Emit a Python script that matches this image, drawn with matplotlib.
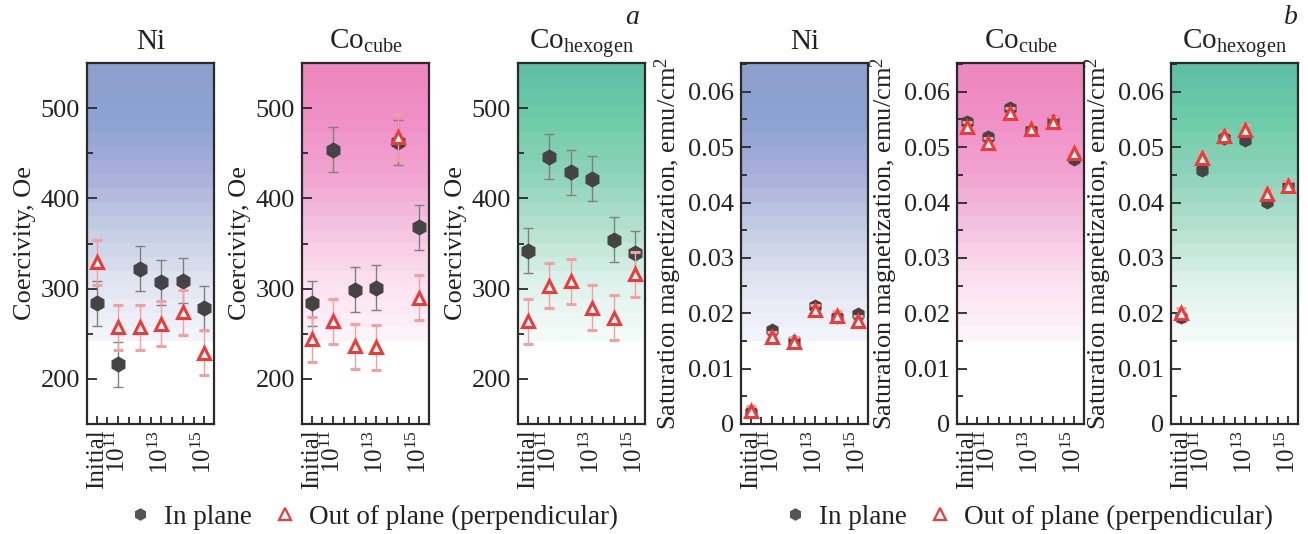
import numpy as np
import matplotlib.pyplot as plt
from matplotlib.colors import LinearSegmentedColormap
from matplotlib.lines import Line2D
from matplotlib.ticker import MultipleLocator, FixedLocator, FuncFormatter

plt.rcParams['font.family'] = ['Liberation Serif', 'DejaVu Serif']
plt.rcParams['mathtext.fontset'] = 'custom'
plt.rcParams['mathtext.rm'] = 'Liberation Serif'
plt.rcParams['mathtext.default'] = 'regular'
plt.rcParams['text.color'] = '#222222'
plt.rcParams['axes.labelcolor'] = '#222222'
plt.rcParams['xtick.color'] = '#222222'
plt.rcParams['ytick.color'] = '#222222'

# Irradiation fluence (Initial, 1e11 ... 1e15) placed on log-scale positions
fluence_pos = [10, 11, 12, 13, 14, 15]
tick_labels = ['Initial', '$10^{11}$', '', '$10^{13}$', '', '$10^{15}$']
materials = ['Ni', 'Co$_{cube}$', 'Co$_{hexogen}$']

# Coercivity, Oe
hc_in_ni = [284, 216, 322, 307, 309, 278]
hc_out_ni = [329, 257, 257, 261, 274, 229]
hc_in_cocube = [284, 454, 299, 301, 462, 368]
hc_out_cocube = [244, 264, 236, 235, 468, 290]
hc_in_cohex = [342, 446, 429, 422, 354, 339]
hc_out_cohex = [264, 303, 308, 279, 268, 316]
hc_err_in = [25, 25, 25, 25, 25, 25]
hc_err_out = [25, 25, 25, 25, 25, 25]

# Saturation magnetization, emu/cm2
ms_in_ni = [0.0022, 0.0169, 0.0150, 0.0213, 0.0193, 0.0198]
ms_out_ni = [0.0024, 0.0158, 0.0148, 0.0206, 0.0195, 0.0186]
ms_in_cocube = [0.0546, 0.0519, 0.0570, 0.0531, 0.0548, 0.0479]
ms_out_cocube = [0.0536, 0.0508, 0.0561, 0.0532, 0.0546, 0.0490]
ms_in_cohex = [0.0193, 0.0458, 0.0516, 0.0513, 0.0401, 0.0430]
ms_out_cohex = [0.0201, 0.0480, 0.0520, 0.0531, 0.0416, 0.0429]
ms_err_in = [0.0008, 0.0008, 0.0008, 0.0008, 0.0008, 0.0008]
ms_err_out = [0.0009, 0.0009, 0.0009, 0.0009, 0.0009, 0.0009]

# background gradients (top -> bottom of the coloured part)
bg_colors = [
    ['#8da0cd', '#8ea3d3', '#aab0dc', '#c4cde4', '#e1e4f0', '#f2f4fc'],
    ['#ee87be', '#f091c8', '#f2a5d2', '#f5c3e1', '#fce1f0', '#fdf3fa'],
    ['#5fc0a5', '#6fcda9', '#8fd4bc', '#b5e1d1', '#dcf2ea', '#f3fbf8'],
]

W, H = 1308, 534
fig = plt.figure(figsize=(W / 100, H / 100), dpi=100)

lefts = [87, 302, 518, 741, 957, 1171]
ax_w = 127
ax_top, ax_bot = 63, 424
fs = 19


def add_background(ax, colors, n_col=20, n_white=6):
    cmap = LinearSegmentedColormap.from_list('bg', colors)
    bands = [cmap(i / (n_col - 1))[:3] for i in range(n_col)]
    bands += [(1, 1, 1)] * n_white
    img = np.array(bands).reshape(-1, 1, 3)
    ax.imshow(img, extent=[0, 1, 0, 1], transform=ax.transAxes,
              aspect='auto', interpolation='nearest', zorder=0)


def style_axis(ax):
    for s in ax.spines.values():
        s.set_linewidth(1.6)
        s.set_color('#2a2a2a')
    ax.set_xlim(9.55, 15.45)
    ax.xaxis.set_major_locator(FixedLocator(fluence_pos))
    ax.set_xticklabels(tick_labels, rotation=90, fontsize=18)
    ax.xaxis.set_minor_locator(MultipleLocator(0.5))
    ax.tick_params(axis='both', which='both', direction='in', top=False, right=False,
                   width=1.3, colors='#2a2a2a', labelcolor='#222222')
    ax.tick_params(axis='x', which='major', length=6, pad=4)
    ax.tick_params(axis='x', which='minor', length=5)
    ax.tick_params(axis='y', which='major', length=7, labelsize=fs, pad=5)
    ax.tick_params(axis='y', which='minor', length=4)


def draw_points(ax, y_in, y_out, e_in, e_out, ms_in, ms_out):
    ax.errorbar(fluence_pos, y_in, yerr=e_in, fmt='h', color='#444444', ms=ms_in,
                ecolor='#808080', elinewidth=1.0, capsize=3.5, capthick=1.0, zorder=3)
    ax.errorbar(fluence_pos, y_out, yerr=e_out, fmt='^', mfc='white', mec='#f03a3a',
                mew=2.2, ms=ms_out, ecolor='#f4a0a0', elinewidth=1.0, capsize=3.5,
                capthick=1.0, zorder=4)


hc_sets = [(hc_in_ni, hc_out_ni), (hc_in_cocube, hc_out_cocube), (hc_in_cohex, hc_out_cohex)]
ms_sets = [(ms_in_ni, ms_out_ni), (ms_in_cocube, ms_out_cocube), (ms_in_cohex, ms_out_cohex)]

for k in range(6):
    ax = fig.add_axes([lefts[k] / W, (H - ax_bot) / H, ax_w / W, (ax_bot - ax_top) / H])
    m = k % 3
    add_background(ax, bg_colors[m])
    style_axis(ax)
    ax.set_title(materials[m], fontsize=21, pad=10)
    if k < 3:
        y_in, y_out = hc_sets[m]
        draw_points(ax, y_in, y_out, hc_err_in, hc_err_out, 10.5, 8.5)
        ax.set_ylim(150, 550)
        ax.yaxis.set_major_locator(MultipleLocator(100))
        ax.yaxis.set_minor_locator(MultipleLocator(50))
        ax.set_ylabel('Coercivity, Oe', fontsize=fs, labelpad=3)
    else:
        y_in, y_out = ms_sets[m]
        draw_points(ax, y_in, y_out, ms_err_in, ms_err_out, 9, 8)
        ax.set_ylim(0, 0.0652)
        ax.yaxis.set_major_locator(MultipleLocator(0.01))
        ax.yaxis.set_minor_locator(MultipleLocator(0.005))
        ax.yaxis.set_major_formatter(FuncFormatter(lambda v, p: '0' if abs(v) < 1e-9 else f'{v:.2f}'))
        ax.set_ylabel('Saturation magnetization, emu/cm$^2$', fontsize=fs, labelpad=3)
    ax.set_xlim(9.55, 15.45)

fig.text(632 / W, 1 - 18 / H, 'a', style='italic', fontsize=20, ha='center', va='center')
fig.text(1291 / W, 1 - 18 / H, 'b', style='italic', fontsize=20, ha='center', va='center')

handles = [
    Line2D([], [], ls='none', marker='h', color='#555555', ms=8),
    Line2D([], [], ls='none', marker='^', mfc='white', mec='#f03a3a', mew=1.6, ms=8),
]
labels = ['In plane', 'Out of plane (perpendicular)']
for cx in (371, 1026):
    fig.legend(handles, labels, loc='center', bbox_to_anchor=(cx / W, 1 - 517 / H),
               ncol=2, frameon=False, fontsize=19.5, handletextpad=0.3,
               columnspacing=0.6, handlelength=1.2, borderaxespad=0)

fig.savefig('out.png', dpi=100)
